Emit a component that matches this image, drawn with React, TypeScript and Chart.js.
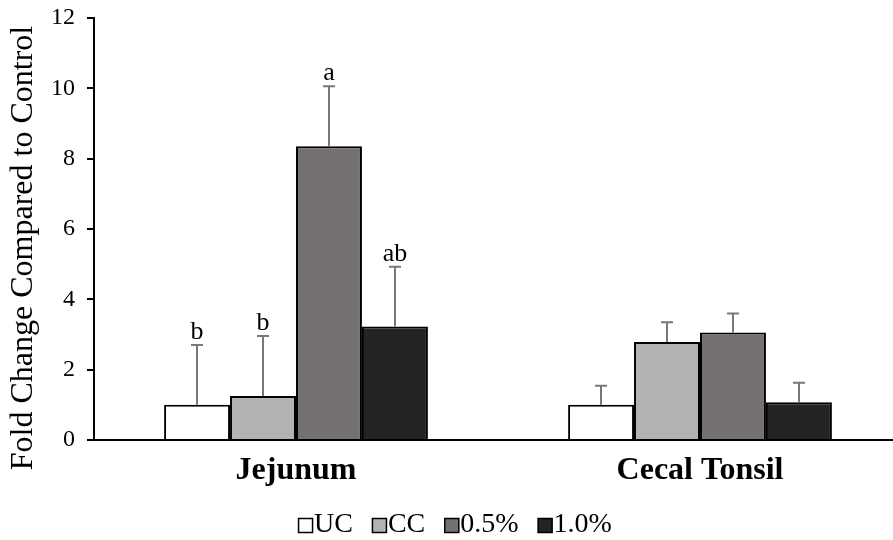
import React, { useEffect, useRef } from "react";
import { Chart, registerables } from "chart.js";

Chart.register(...registerables);

const categories = ["Jejunum", "Cecal Tonsil"];
const seriesNames = ["UC", "CC", "0.5%", "1.0%"];
const ucValues = [1.0, 1.0];
const ccValues = [1.25, 2.79];
const p05Values = [8.35, 3.06];
const p10Values = [3.23, 1.07];
const ucErrors = [1.7, 0.54];
const ccErrors = [1.71, 0.56];
const p05Errors = [1.71, 0.54];
const p10Errors = [1.7, 0.56];
const ucLetters = ["b", ""];
const ccLetters = ["b", ""];
const p05Letters = ["a", ""];
const p10Letters = ["ab", ""];
const yTicks = [0, 2, 4, 6, 8, 10, 12];
const yTitle = "Fold Change Compared to Control";

const SERIF = "'Times New Roman', 'Liberation Serif', serif";
const colors = ["#ffffff", "#b3b3b3", "#767171", "#232323"];

const errorsBySeries = [ucErrors, ccErrors, p05Errors, p10Errors];
const lettersBySeries = [ucLetters, ccLetters, p05Letters, p10Letters];

const extrasPlugin = {
  id: "extras",
  afterDatasetsDraw(chart: any) {
    const ctx = chart.ctx;
    const yScale = chart.scales.y;
    chart.data.datasets.forEach((ds: any, i: number) => {
      const meta = chart.getDatasetMeta(i);
      meta.data.forEach((el: any, j: number) => {
        const v = ds.data[j];
        const e = errorsBySeries[i][j];
        const yTop = yScale.getPixelForValue(v + e);
        const x = Math.round(el.x);
        ctx.save();
        ctx.strokeStyle = "#787878";
        ctx.lineWidth = 2;
        ctx.beginPath();
        ctx.moveTo(x, el.y);
        ctx.lineTo(x, yTop);
        ctx.moveTo(x - 6, yTop);
        ctx.lineTo(x + 6, yTop);
        ctx.stroke();
        const letter = lettersBySeries[i][j];
        if (letter) {
          ctx.fillStyle = "#000";
          ctx.font = `26px ${SERIF}`;
          ctx.textAlign = "center";
          ctx.textBaseline = "alphabetic";
          ctx.fillText(letter, x, yTop - 6);
        }
        ctx.restore();
      });
    });
  },
  afterDraw(chart: any) {
    const ctx = chart.ctx;
    // y-axis title
    ctx.save();
    ctx.fillStyle = "#000";
    ctx.font = `32px ${SERIF}`;
    ctx.textAlign = "center";
    ctx.textBaseline = "middle";
    ctx.translate(24, 248);
    ctx.rotate(-Math.PI / 2);
    ctx.fillText(yTitle, 0, 0);
    ctx.restore();
    // legend
    ctx.save();
    ctx.font = `28px ${SERIF}`;
    ctx.textBaseline = "alphabetic";
    ctx.textAlign = "left";
    const box = 14;
    const gapBoxText = 2;
    const gapItems = 19;
    const widths = chart.data.datasets.map(
      (ds: any) => box + gapBoxText + ctx.measureText(ds.label).width
    );
    const total = widths.reduce((a: number, b: number) => a + b, 0) + gapItems * (widths.length - 1);
    let x = 455 - total / 2;
    const yBox = 518;
    chart.data.datasets.forEach((ds: any, i: number) => {
      ctx.fillStyle = ds.backgroundColor;
      ctx.fillRect(x + 0.5, yBox + 0.5, box, box);
      ctx.strokeStyle = "#000";
      ctx.lineWidth = 1.5;
      ctx.strokeRect(x + 0.5, yBox + 0.5, box, box);
      ctx.fillStyle = "#000";
      ctx.fillText(ds.label, x + box + gapBoxText, 532);
      x += widths[i] + gapItems;
    });
    ctx.restore();
  },
};

export default function App() {
  const canvasRef = useRef<HTMLCanvasElement>(null);

  useEffect(() => {
    document.body.style.margin = "0";
    const canvas = canvasRef.current!;
    const valuesBySeries = [ucValues, ccValues, p05Values, p10Values];
    const chart = new Chart(canvas, {
      type: "bar",
      data: {
        labels: categories,
        datasets: seriesNames.map((name, i) => ({
          label: name,
          data: valuesBySeries[i],
          backgroundColor: colors[i],
          borderColor: "#000000",
          borderWidth: 2,
          barPercentage: 1.0,
          categoryPercentage: 0.653,
        })),
      },
      options: {
        responsive: false,
        animation: false,
        devicePixelRatio: 1,
        layout: { padding: { top: 18, right: 1, left: 0, bottom: 0 } },
        plugins: {
          legend: { display: false },
          tooltip: { enabled: false },
        },
        scales: {
          x: {
            grid: { display: false },
            border: { display: true, color: "#000", width: 2 },
            ticks: {
              color: "#000",
              font: { family: SERIF, size: 32, weight: "bold" },
              padding: 4,
            },
            afterFit(scale: any) {
              scale.height = 100;
              scale.paddingLeft = 0;
              scale.paddingRight = 0;
            },
          },
          y: {
            min: 0,
            max: 12,
            afterBuildTicks(scale: any) {
              scale.ticks = yTicks.map((v) => ({ value: v }));
            },
            grid: {
              display: true,
              drawOnChartArea: false,
              drawTicks: true,
              tickLength: 7,
              color: "#000",
              lineWidth: 2,
            },
            border: { display: true, color: "#000", width: 2 },
            ticks: {
              color: "#000",
              font: { family: SERIF, size: 24 },
              padding: 12,
            },
            afterFit(scale: any) {
              scale.width = 94;
              scale.paddingTop = 0;
              scale.paddingBottom = 0;
            },
          },
        },
      },
      plugins: [extrasPlugin],
    });
    return () => chart.destroy();
  }, []);

  return (
    <div style={{ position: "absolute", left: 0, top: 0, width: 893, height: 540, overflow: "hidden", background: "#fff" }}>
      <canvas ref={canvasRef} width={903} height={540} style={{ width: 903, height: 540, display: "block" }} />
    </div>
  );
}
